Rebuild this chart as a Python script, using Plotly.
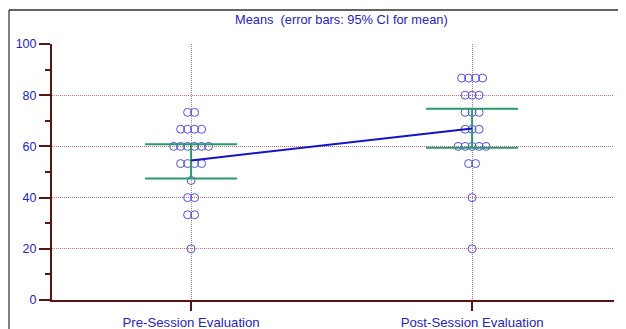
import plotly.graph_objects as go

# ---- data ----
categories = ["Pre-Session Evaluation", "Post-Session Evaluation"]
pre_values = [73.3, 73.3,
              66.7, 66.7, 66.7, 66.7,
              60, 60, 60, 60, 60, 60,
              53.3, 53.3, 53.3, 53.3,
              46.7,
              40, 40,
              33.3, 33.3,
              20]
post_values = [86.7, 86.7, 86.7, 86.7,
               80, 80, 80,
               73.3, 73.3, 73.3,
               66.7, 66.7, 66.7,
               60, 60, 60, 60, 60,
               53.3, 53.3,
               40,
               20]
means = [54.5, 67.0]
ci_low = [47.5, 59.5]
ci_high = [60.8, 74.7]
y_ticks = [0, 20, 40, 60, 80, 100]

# ---- layout constants (page has an 8px body margin) ----
OFF = 8
W, H = 626 - OFF, 329 - OFF
PLOT_L, PLOT_R, PLOT_T, PLOT_B = 52, 614, 44, 300   # page pixels
L, R, T, B = PLOT_L - OFF, W - (PLOT_R - OFF), PLOT_T - OFF, H - (PLOT_B - OFF)
PW, PH = W - L - R, H - T - B
X0, X1 = -0.495, 1.505
unit_px = PW / (X1 - X0)
dot_step = 7.0 / unit_px
cap_half = 46 / unit_px

def px2paper(px, py):
    return (px - PLOT_L) / PW, (PLOT_B - py) / PH

def dot_offsets(vals):
    groups = {}
    for v in vals:
        groups[v] = groups.get(v, 0) + 1
    out_x, out_y = [], []
    for v, n in groups.items():
        for i in range(n):
            out_x.append((i - (n - 1) / 2) * dot_step)
            out_y.append(v)
    return out_x, out_y

fig = go.Figure()

dot_color = "#5050e6"
for ci, vals in enumerate([pre_values, post_values]):
    ox, oy = dot_offsets(vals)
    fig.add_trace(go.Scatter(
        x=[ci + o for o in ox], y=oy, mode="markers",
        marker=dict(symbol="circle-open", size=8, color=dot_color,
                    line=dict(width=1, color=dot_color)),
        hoverinfo="skip", showlegend=False))

green = "#2a9a6c"
for ci in range(2):
    fig.add_trace(go.Scatter(x=[ci, ci], y=[ci_low[ci], ci_high[ci]], mode="lines",
                             line=dict(color=green, width=2), showlegend=False, hoverinfo="skip"))
    for yv in (ci_low[ci], ci_high[ci]):
        fig.add_trace(go.Scatter(x=[ci - cap_half, ci + cap_half], y=[yv, yv], mode="lines",
                                 line=dict(color=green, width=2), showlegend=False, hoverinfo="skip"))

fig.add_trace(go.Scatter(x=[0, 1], y=means, mode="lines",
                         line=dict(color="#1414c8", width=2), showlegend=False, hoverinfo="skip"))

axis_col = "#5a1414"
grid_col = "#c8707e"
font_fam = "Liberation Sans, Arial, sans-serif"
ytick_font = dict(family=font_fam, size=12.5, color="#2424c0")
xtick_font = dict(family=font_fam, size=13.2, color="#2424c0")

fig.update_xaxes(range=[X0, X1], tickmode="array", tickvals=[0, 1], ticktext=categories,
                 showgrid=True, gridcolor=grid_col, griddash="1px,1px", gridwidth=1,
                 showline=True, linecolor=axis_col, linewidth=2,
                 ticks="outside", ticklen=9, tickwidth=2, tickcolor=axis_col,
                 tickfont=xtick_font, zeroline=False, fixedrange=True, automargin=False)
fig.update_yaxes(range=[0, 100], tickmode="array", tickvals=y_ticks,
                 showgrid=True, gridcolor=grid_col, griddash="1px,1px", gridwidth=1,
                 showline=True, linecolor=axis_col, linewidth=2,
                 ticks="outside", ticklen=11, tickwidth=2, tickcolor=axis_col,
                 minor=dict(dtick=10, tick0=0, ticks="outside", ticklen=5, tickwidth=2,
                            tickcolor=axis_col, showgrid=False),
                 tickfont=ytick_font, zeroline=False, fixedrange=True, automargin=False)

# frame around the picture
lx, ty = px2paper(9, 10)
rx, by = px2paper(626, 329)
fig.add_shape(type="line", xref="paper", yref="paper", x0=lx, x1=lx, y0=by, y1=ty,
              line=dict(color="#808080", width=2))
fig.add_shape(type="line", xref="paper", yref="paper", x0=lx, x1=rx, y0=ty, y1=ty,
              line=dict(color="#303030", width=1.5))

tx, tyy = px2paper(341, 19)
fig.add_annotation(text="Means  (error bars: 95% CI for mean)", xref="paper", yref="paper",
                   x=tx, y=tyy, showarrow=False, xanchor="center", yanchor="middle",
                   font=dict(family=font_fam, size=12.8, color="#2424b4"))

fig.update_layout(width=W, height=H, margin=dict(l=L, r=R, t=T, b=B, autoexpand=False),
                  paper_bgcolor="white", plot_bgcolor="white")

fig.write_html("out.html")
